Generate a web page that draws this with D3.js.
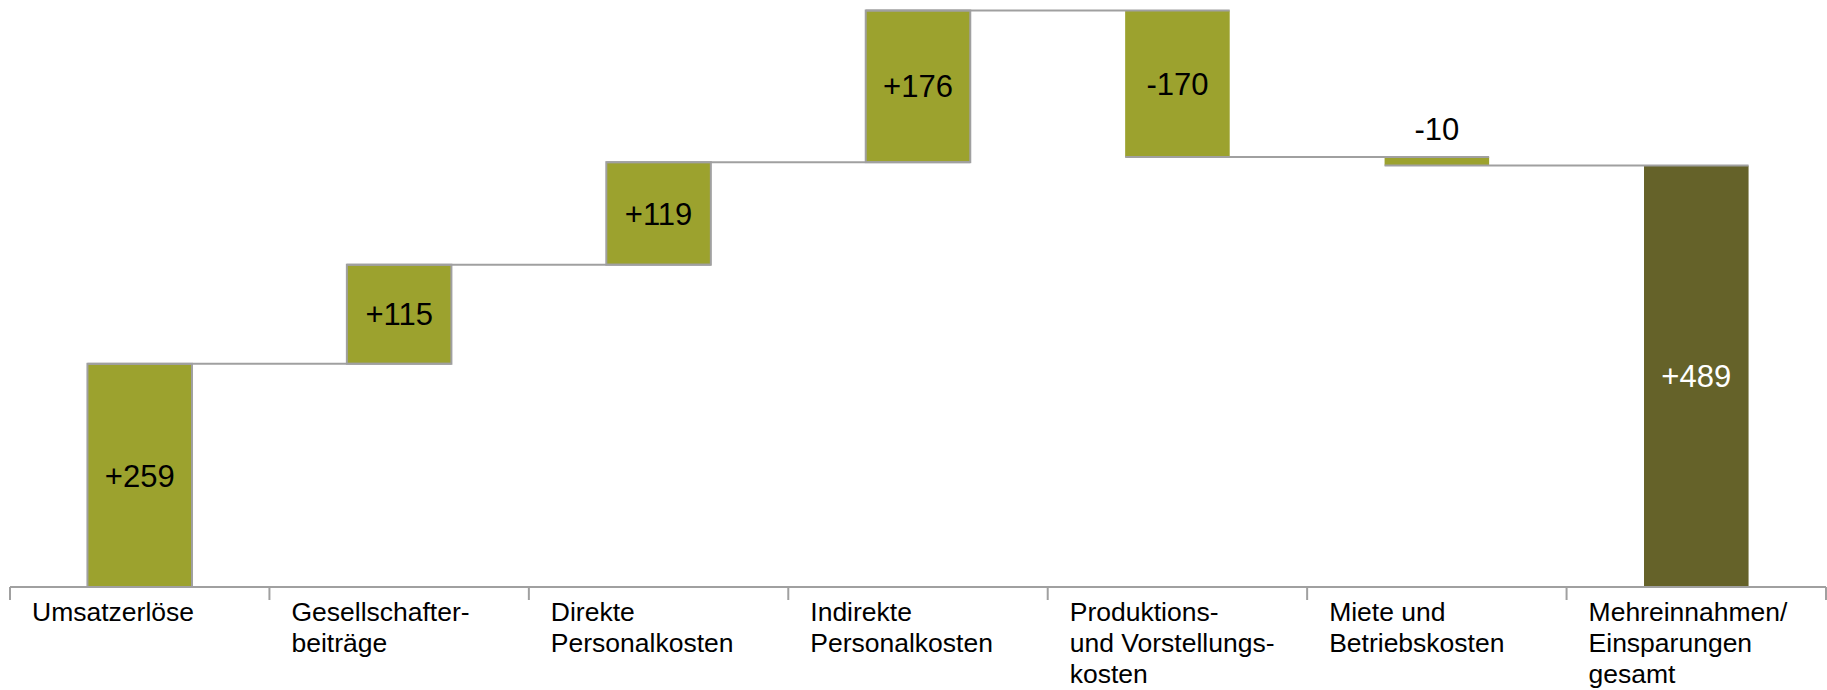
<!DOCTYPE html>
<html>
<head>
<meta charset="utf-8">
<script src="https://cdn.jsdelivr.net/npm/d3@7"></script>
<style>
  html, body { margin: 0; padding: 0; background: #ffffff; }
  svg { display: block; font-family: "Liberation Sans", Arial, sans-serif; }
</style>
</head>
<body>
<svg id="chart" width="1827" height="690"></svg>
<script>
// ---- data ----
const categories = [
  ["Umsatzerlöse"],
  ["Gesellschafter-", "beiträge"],
  ["Direkte", "Personalkosten"],
  ["Indirekte", "Personalkosten"],
  ["Produktions-", "und Vorstellungs-", "kosten"],
  ["Miete und", "Betriebskosten"],
  ["Mehreinnahmen/", "Einsparungen", "gesamt"]
];
const values = [259, 115, 119, 176, -170, -10, 489];
const isTotal = [false, false, false, false, false, false, true];
const valueLabels = ["+259", "+115", "+119", "+176", "-170", "-10", "+489"];

// ---- derived waterfall segments ----
let running = 0;
const segs = values.map((v, i) => {
  let start, end;
  if (isTotal[i]) { start = 0; end = v; running = v; }
  else { start = running; end = running + v; running = end; }
  return { i, v, start, end, total: isTotal[i], label: valueLabels[i], cat: categories[i] };
});
const maxCum = d3.max(segs, d => Math.max(d.start, d.end));

// ---- layout ----
const svg = d3.select("#chart");
const baseY = 587;
const x = d3.scaleBand().domain(d3.range(categories.length)).range([10, 1826]).paddingInner(0).paddingOuter(0);
const y = d3.scaleLinear().domain([0, maxCum]).range([baseY, 10.5]);
const barW = x.bandwidth() * 0.403;
const barX = i => x(i) + (x.bandwidth() - barW) / 2;

const green = "#9ca22e";
const dark = "#656229";
const gray = "#a0a0a0";

// bars
svg.append("g").selectAll("rect").data(segs).join("rect")
  .attr("x", d => barX(d.i))
  .attr("y", d => y(Math.max(d.start, d.end)))
  .attr("width", barW)
  .attr("height", d => Math.abs(y(d.start) - y(d.end)))
  .attr("fill", d => d.total ? dark : green)
  .attr("stroke", d => (!d.total && d.v > 0) ? gray : "none")
  .attr("stroke-width", 2);

// connectors
const conns = segs.slice(0, -1).map((d, k) => ({ from: d.i, to: segs[k + 1].i, level: d.end }));
svg.append("g").selectAll("line").data(conns).join("line")
  .attr("x1", d => barX(d.from))
  .attr("x2", d => barX(d.to) + barW)
  .attr("y1", d => y(d.level))
  .attr("y2", d => y(d.level))
  .attr("stroke", gray)
  .attr("stroke-width", 2);

// value labels
svg.append("g").selectAll("text").data(segs).join("text")
  .attr("x", d => barX(d.i) + barW / 2)
  .attr("y", d => {
    const h = Math.abs(y(d.start) - y(d.end));
    if (h < 40) return y(Math.max(d.start, d.end)) - 17;
    return (y(d.start) + y(d.end)) / 2;
  })
  .attr("dy", d => Math.abs(y(d.start) - y(d.end)) < 40 ? 0 : "0.36em")
  .attr("text-anchor", "middle")
  .attr("font-size", "31px")
  .attr("fill", d => d.total ? "#ffffff" : "#000000")
  .text(d => d.label);

// axis
const axis = svg.append("g");
axis.append("line")
  .attr("x1", x.range()[0]).attr("x2", x.range()[1])
  .attr("y1", baseY).attr("y2", baseY)
  .attr("stroke", gray).attr("stroke-width", 2);
const tickPos = d3.range(categories.length).map(i => x(i)).concat([x.range()[1]]);
axis.selectAll("line.tick").data(tickPos).join("line")
  .attr("class", "tick")
  .attr("x1", d => d).attr("x2", d => d)
  .attr("y1", baseY).attr("y2", baseY + 13)
  .attr("stroke", gray).attr("stroke-width", 2);

// category labels
const catG = svg.append("g").selectAll("text").data(segs).join("text")
  .attr("x", d => x(d.i) + 22)
  .attr("y", 621)
  .attr("font-size", "26.5px")
  .attr("fill", "#000000");
catG.selectAll("tspan").data(d => d.cat.map(t => ({ t, x: x(d.i) + 22 }))).join("tspan")
  .attr("x", t => t.x)
  .attr("dy", (t, j) => j === 0 ? 0 : 31)
  .text(t => t.t);
</script>
</body>
</html>
